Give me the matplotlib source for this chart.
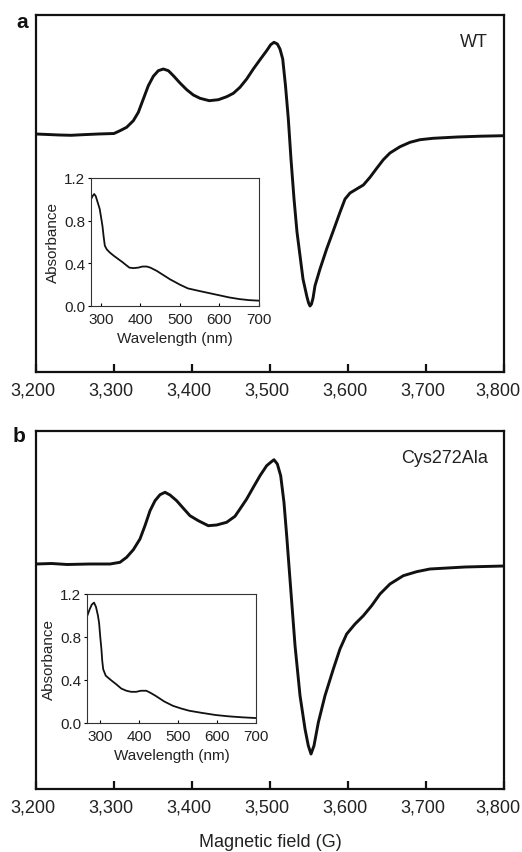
import matplotlib
matplotlib.use("Agg")
import matplotlib.pyplot as plt
from matplotlib.transforms import ScaledTranslation

plt.rcParams['font.family'] = ['Liberation Sans', 'DejaVu Sans']

# ---------------- data ----------------
# Panel a (WT) EPR spectrum: field (G), signal (arb. units)
field_a = [3200, 3230, 3245, 3260, 3280, 3300, 3307.7, 3316.2, 3324.8, 3331.2, 3337.6,
           3344.0, 3350.4, 3356.8, 3363.2, 3369.7, 3376.1, 3384.6, 3393.2, 3401.7, 3410.3,
           3422.2, 3433.8, 3444.5, 3453.0, 3461.5, 3470.1, 3478.6, 3487.2, 3495.7, 3500.9,
           3505.1, 3509.4, 3512.8, 3516.3, 3519.9, 3523.5, 3526.9, 3530.8, 3534.6, 3542.3,
           3547.4, 3549.5, 3551.3, 3553.2, 3555.2, 3557.7, 3564.1, 3572.6, 3581.2, 3589.7,
           3596.2, 3602.6, 3611.1, 3619.7, 3628.2, 3636.8, 3645.3, 3653.8, 3666.7, 3679.5,
           3692.3, 3709, 3740, 3770, 3800]
signal_a = [0, -1, -1.3, -0.7, 0, 0.5, 3.3, 6.7, 13.3, 21.7, 35,
            48.3, 57.7, 63.3, 65, 63.3, 58.3, 51, 44.3, 39, 35.7,
            33.3, 34.3, 37.3, 40.7, 46.7, 55, 65, 74.3, 83.3, 89.3,
            91.7, 90, 85, 75, 48, 15, -25, -65, -98, -145,
            -163, -169, -172, -170, -164, -151.7, -135, -115, -96.7, -78.3,
            -65, -59, -55, -51, -43.3, -34.3, -25.7, -19, -12.7, -8.3,
            -5.7, -4.3, -3, -2.2, -1.7]

# Panel b (Cys272Ala)
field_b = [3200, 3220, 3240, 3269, 3294.9, 3307.7, 3316.2, 3324.8, 3333.3, 3339.7, 3346.2,
           3352.6, 3359.0, 3365.4, 3371.8, 3380.3, 3388.9, 3397.4, 3408.1, 3420.9, 3431.6,
           3444.4, 3455.1, 3461.5, 3470.1, 3478.6, 3487.2, 3495.7, 3500.9, 3505.1, 3509.4,
           3513.7, 3517.9, 3521.4, 3525.6, 3532.1, 3538.5, 3544.9, 3549.1, 3552.6, 3556.4,
           3562.0, 3570.5, 3581.2, 3589.7, 3598.3, 3609.0, 3619.7, 3630.3, 3641.0, 3653.8,
           3670.9, 3688, 3705, 3750, 3800]
signal_b = [0, 0.5, -0.5, 0, 0, 1.7, 6.7, 14.3, 25, 38.3, 53.3,
            63.3, 69.3, 71.7, 69, 63.3, 55.7, 48.3, 43.3, 38.3, 39,
            41.7, 47.7, 55, 65, 76.7, 88.3, 98.3, 101.7, 104.3, 100,
            88.3, 61.7, 28.3, -15, -81.7, -131.7, -165, -181.7, -190, -181.7,
            -158.3, -131.7, -105, -85, -70, -60, -51.7, -41.7, -30, -20,
            -11.7, -7.7, -5, -3, -2]

# Insets: UV-vis absorbance
wl_a = [275, 279, 283, 287, 292, 297, 301, 304, 307, 310, 315, 323, 333, 344, 355, 365,
        372, 382, 395, 405, 416, 425, 441, 458, 475, 500, 520, 550, 575, 600, 625, 650,
        675, 700]
abs_a = [1.00, 1.03, 1.05, 1.03, 0.97, 0.91, 0.82, 0.75, 0.65, 0.565, 0.53, 0.50, 0.47,
         0.44, 0.41, 0.38, 0.36, 0.355, 0.36, 0.37, 0.37, 0.36, 0.33, 0.29, 0.25, 0.20,
         0.165, 0.14, 0.12, 0.10, 0.08, 0.065, 0.055, 0.05]

wl_b = [267, 273, 279, 285, 290, 295, 298, 301, 304, 306, 308.5, 315, 328, 342, 355, 368,
        380, 393, 405, 419, 430, 444, 465, 487, 508, 529, 560, 597, 630, 664, 700]
abs_b = [0.99, 1.05, 1.10, 1.12, 1.08, 1.00, 0.93, 0.80, 0.685, 0.58, 0.50, 0.44, 0.40,
         0.36, 0.32, 0.30, 0.29, 0.29, 0.30, 0.30, 0.28, 0.25, 0.20, 0.16, 0.135, 0.114,
         0.095, 0.074, 0.062, 0.053, 0.046]

field_ticks = [3200, 3300, 3400, 3500, 3600, 3700, 3800]
field_ticklabels = ['3,200', '3,300', '3,400', '3,500', '3,600', '3,700', '3,800']
wl_ticks = [300, 400, 500, 600, 700]
abs_ticks = [0.0, 0.4, 0.8, 1.2]

panel_letters = ['a', 'b']
sample_names = ['WT', 'Cys272Ala']
xlabel_main = 'Magnetic field (G)'
inset_xlabel = 'Wavelength (nm)'
inset_ylabel = 'Absorbance'

# ---------------- figure ----------------
W, H = 522, 853
fig = plt.figure(figsize=(W / 100, H / 100), dpi=100)
TXT = '#222222'


def frac(left, top, right, bottom):
    return [left / W, (H - bottom) / H, (right - left) / W, (bottom - top) / H]


main_boxes = [frac(36, 16, 504, 373), frac(36, 432, 504, 790)]
main_ylims = [(-238, 119), (-225, 133)]
inset_boxes = [frac(91, 179, 259, 307), frac(87, 595, 256, 724)]
inset_xlims = [(275, 700), (267, 700)]
fields = [field_a, field_b]
signals = [signal_a, signal_b]
wls = [wl_a, wl_b]
absorb = [abs_a, abs_b]
letter_pos = [(16, 22), (13, 437)]

for i in range(2):
    ax = fig.add_axes(main_boxes[i])
    ax.plot(fields[i], signals[i], color='#111111', lw=2.1, solid_joinstyle='round',
            solid_capstyle='round')
    ax.set_xlim(3200, 3800)
    ax.set_ylim(*main_ylims[i])
    ax.set_xticks(field_ticks)
    ax.set_xticklabels(field_ticklabels)
    ax.set_yticks([])
    ax.tick_params(axis='x', direction='in', length=6, width=1.6, pad=7,
                   labelsize=13, labelcolor=TXT, color='#111111')
    labels = ax.get_xticklabels()
    for j, lab in enumerate(labels):
        dx = -3 if j < len(labels) - 1 else -6
        lab.set_transform(lab.get_transform() +
                          ScaledTranslation(dx / 100, 0, fig.dpi_scale_trans))
    for s in ax.spines.values():
        s.set_linewidth(1.6)
        s.set_color('#111111')
    ax.text(0.965, 0.925, sample_names[i], transform=ax.transAxes, ha='right',
            va='center', fontsize=13, color=TXT)
    fig.text(letter_pos[i][0] / W, 1 - letter_pos[i][1] / H, panel_letters[i],
             fontsize=15, fontweight='bold', color='#111111', ha='left', va='center')

    ins = fig.add_axes(inset_boxes[i])
    ins.plot(wls[i], absorb[i], color='#111111', lw=1.3, solid_joinstyle='round')
    ins.set_xlim(*inset_xlims[i])
    ins.set_ylim(0, 1.2)
    ins.set_xticks(wl_ticks)
    ins.set_yticks(abs_ticks)
    ins.set_yticklabels([f'{v:.1f}' for v in abs_ticks])
    ins.tick_params(axis='x', direction='in', length=2, width=0.8, pad=4,
                    labelsize=11, labelcolor=TXT)
    ins.tick_params(axis='y', direction='out', length=2, width=0.8, pad=2,
                    labelsize=11, labelcolor=TXT)
    for s in ins.spines.values():
        s.set_linewidth(0.8)
        s.set_color('#333333')
    ins.set_xlabel(inset_xlabel, fontsize=11, color=TXT, labelpad=4)
    ins.set_ylabel(inset_ylabel, fontsize=11, color=TXT, labelpad=3)

fig.text(0.5 * (36 + 504) / W, 1 - 843 / H, xlabel_main, ha='center', va='center',
         fontsize=13, color=TXT)

fig.savefig('out.png', dpi=100)
